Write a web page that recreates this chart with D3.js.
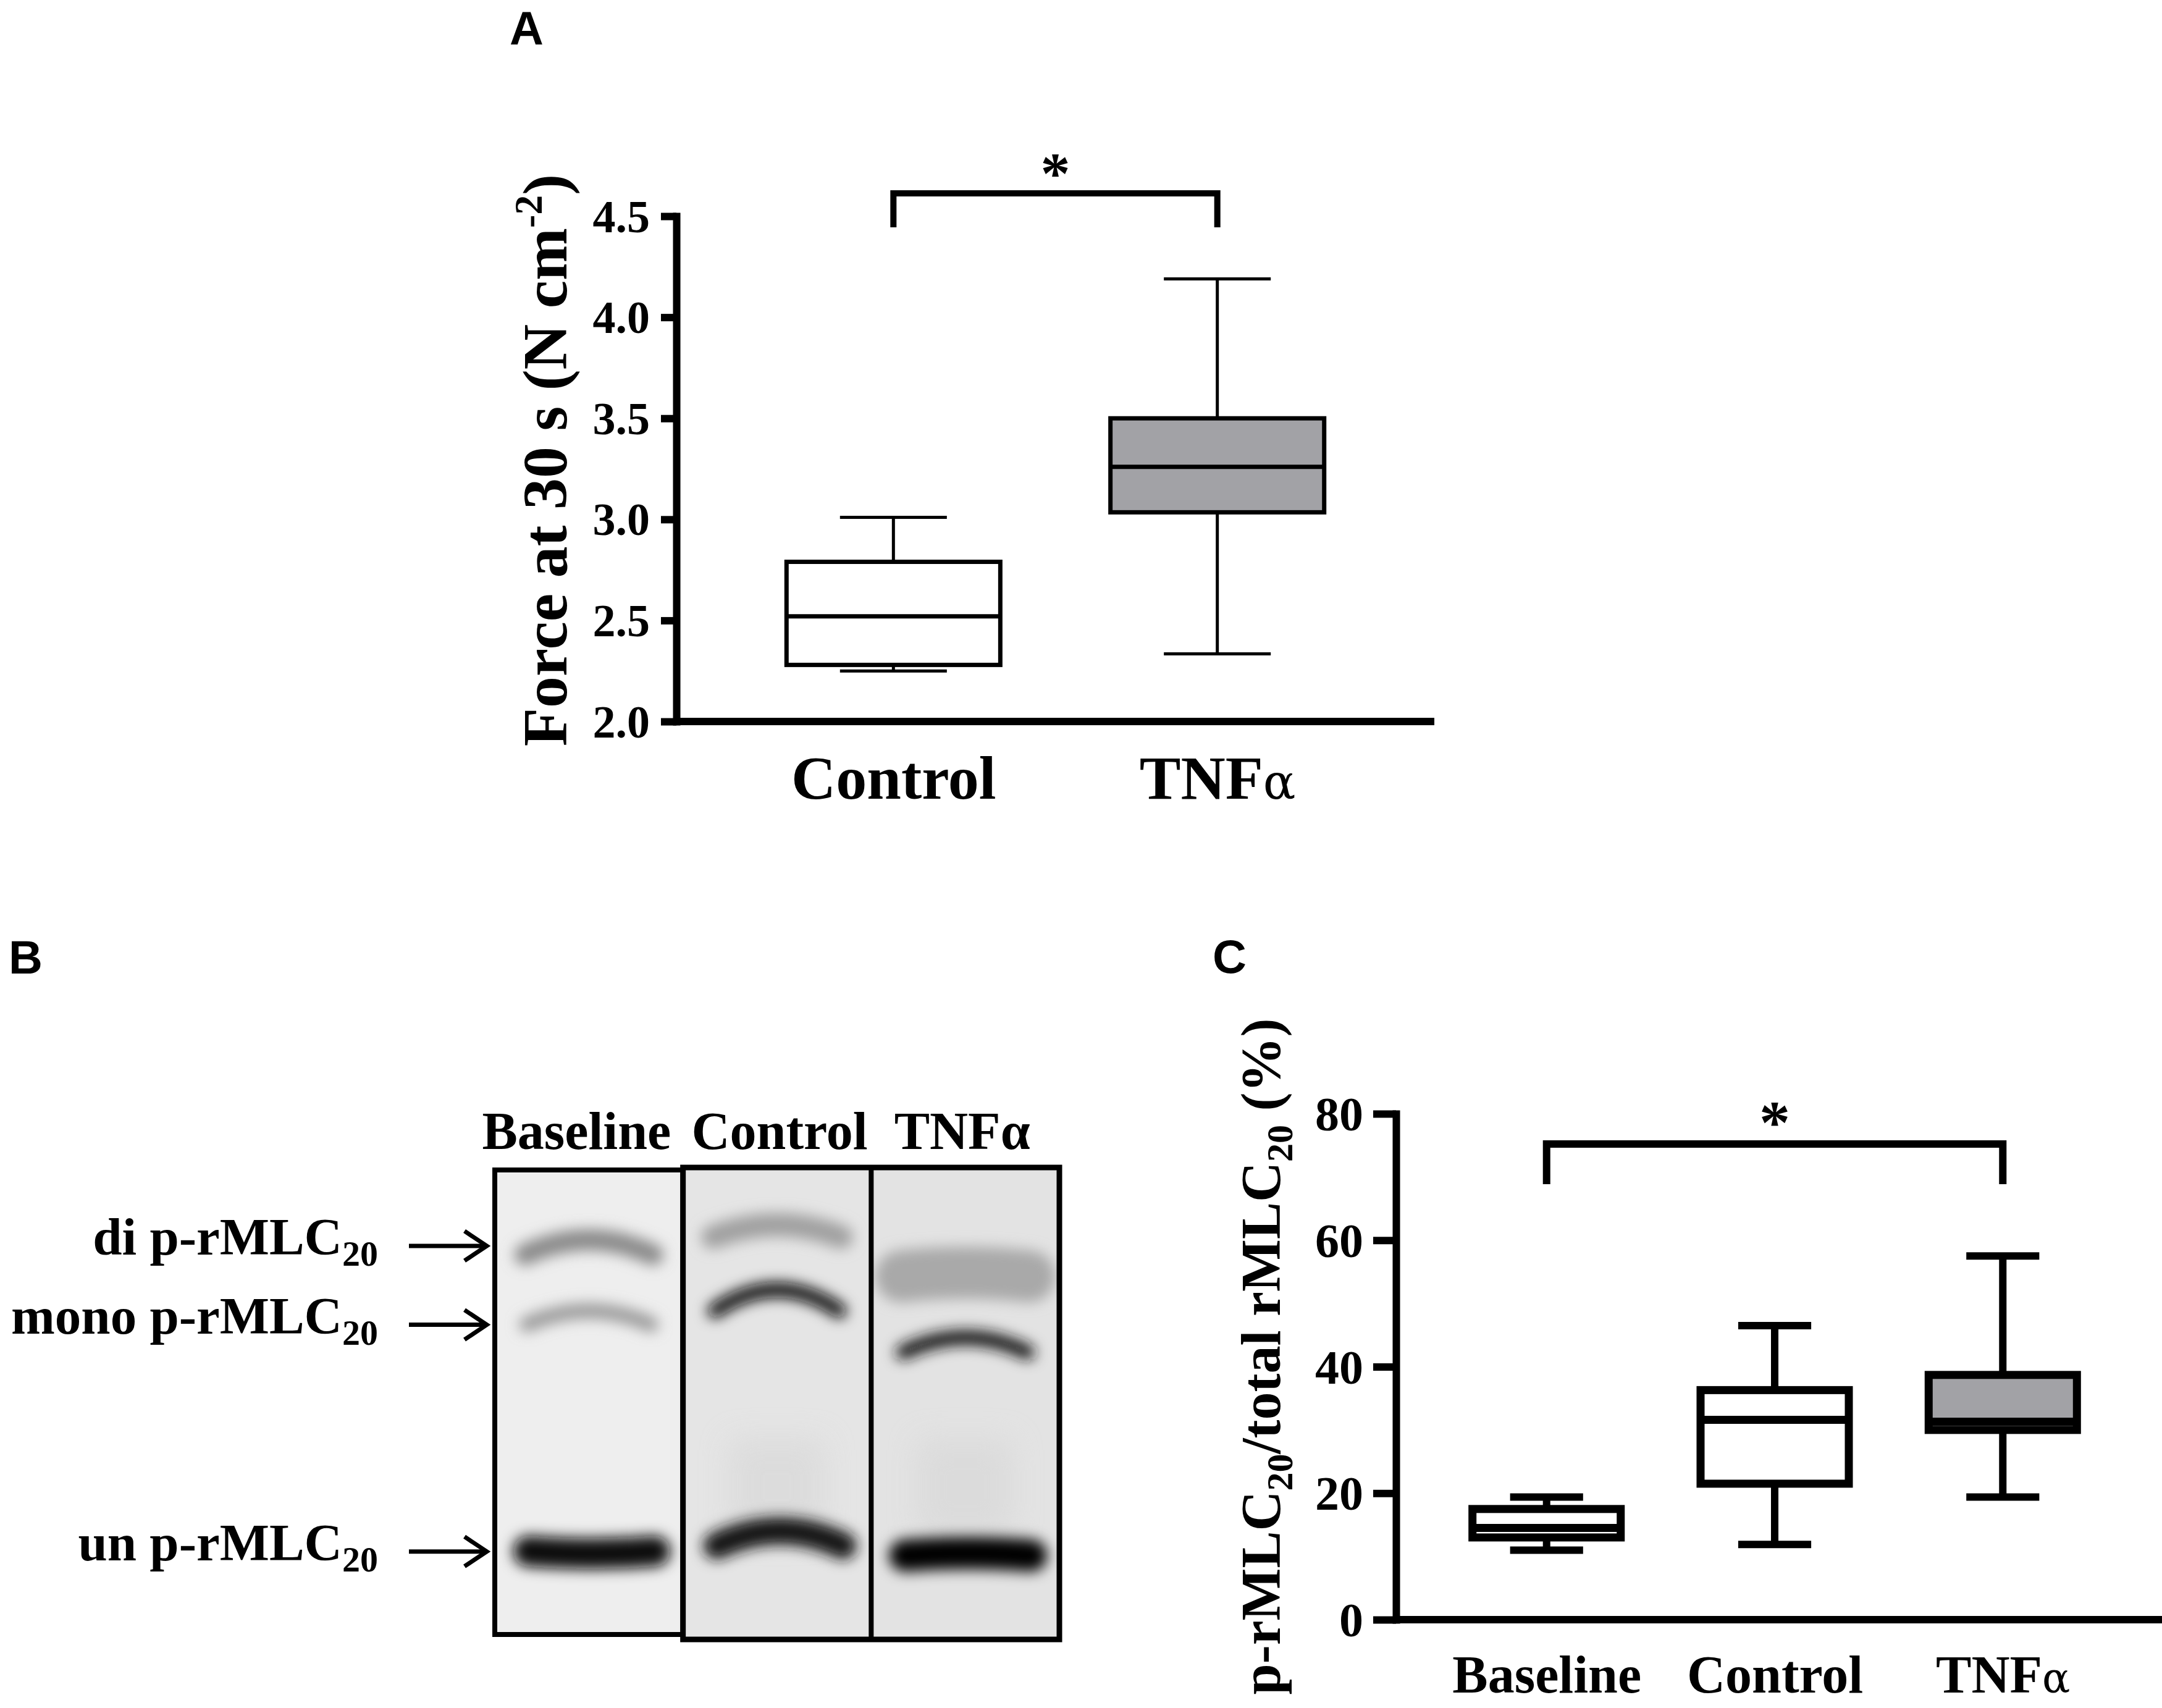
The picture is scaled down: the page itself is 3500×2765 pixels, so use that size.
<!DOCTYPE html>
<html lang="en">
<head>
<meta charset="utf-8" />
<title>Force and rMLC20 phosphorylation</title>
<script src="https://cdn.jsdelivr.net/npm/d3@7"></script>
<style>
  html, body { margin: 0; background: #fff; }
  svg { display: block; }
  .serif { font-family: "Liberation Serif", "Times New Roman", serif; font-weight: bold; fill: #000; }
  .letter { font-family: "Liberation Sans", Arial, sans-serif; font-weight: bold; fill: #000; }
</style>
</head>
<body>
<script>
// ---- data ----
// A: force at 30 s (N cm^-2), box = min / q1 / median / q3 / max
const groupsA = ["Control", "TNFα"];
const forceMin = [2.25, 2.335];
const forceQ1  = [2.28, 3.035];
const forceMed = [2.52, 3.26];
const forceQ3  = [2.79, 3.50];
const forceMax = [3.01, 4.19];
const ticksA   = [2.0, 2.5, 3.0, 3.5, 4.0, 4.5];
const fillsA   = ["#ffffff", "#a2a2a6"];

// C: p-rMLC20 / total rMLC20 (%)
const groupsC = ["Baseline", "Control", "TNFα"];
const phosMin = [11.0, 11.9, 19.4];
const phosQ1  = [13.0, 21.5, 30.0];
const phosMed = [14.5, 31.6, 31.3];
const phosQ3  = [17.5, 36.3, 38.7];
const phosMax = [19.4, 46.5, 57.5];
const ticksC  = [0, 20, 40, 60, 80];
const fillsC  = ["#ffffff", "#ffffff", "#a2a2a6"];

// B: gel lanes, band mobility (Rf, 0 = top of gel) and darkness per lane
const lanes      = ["Baseline", "Control", "TNFα"];
const bandLabels = ["di p-rMLC", "mono p-rMLC", "un p-rMLC"];
const markerRf   = [0.167, 0.335, 0.818];
const diRf    = [0.170, 0.135, 0.228];
const monoRf  = [0.320, 0.283, 0.378];
const unRf    = [0.820, 0.790, 0.824];
const diDark   = [0.40, 0.30, 0.26];
const monoDark = [0.34, 0.95, 0.92];
const unDark   = [0.98, 0.92, 1.00];
const diSpread   = [34, 38, 84];
const monoSpread = [24, 24, 24];
const unSpread   = [50, 44, 52];
const diArch   = [12, 10, 3];
const monoArch = [11, 17, 12];
const unArch   = [-2, 12, 2];

// ---- drawing ----
const W = 3500, H = 2765;
const svg = d3.select("body").append("svg")
  .attr("width", W).attr("height", H)
  .attr("viewBox", [0, 0, W, H]);
const defs = svg.append("defs");

function panelLetter(txt, x, y) {
  svg.append("text").attr("class", "letter")
    .attr("x", x).attr("y", y)
    .style("font-size", "76px")
    .text(txt);
}

// draw a box and whisker set
function drawBoxes(g, x, y, cats, mins, q1s, meds, q3s, maxs, fills, st) {
  const rows = cats.map((c, i) => ({ c, min: mins[i], q1: q1s[i], med: meds[i], q3: q3s[i], max: maxs[i], fill: fills[i] }));
  const bw = x.step() * st.box, cw = x.step() * st.cap;
  const b = g.selectAll("g.box").data(rows).join("g").attr("class", "box")
    .attr("transform", d => `translate(${x(d.c)},0)`);
  b.append("line").attr("y1", d => y(d.max)).attr("y2", d => y(d.q3))
    .attr("stroke", "#000").attr("stroke-width", st.whisker);
  b.append("line").attr("y1", d => y(d.min)).attr("y2", d => y(d.q1))
    .attr("stroke", "#000").attr("stroke-width", st.whisker);
  b.append("line").attr("x1", -cw / 2).attr("x2", cw / 2)
    .attr("y1", d => y(d.max)).attr("y2", d => y(d.max))
    .attr("stroke", "#000").attr("stroke-width", st.whisker);
  b.append("line").attr("x1", -cw / 2).attr("x2", cw / 2)
    .attr("y1", d => y(d.min)).attr("y2", d => y(d.min))
    .attr("stroke", "#000").attr("stroke-width", st.whisker);
  b.append("rect").attr("x", -bw / 2).attr("width", bw)
    .attr("y", d => y(d.q3)).attr("height", d => y(d.q1) - y(d.q3))
    .attr("fill", d => d.fill).attr("stroke", "#000").attr("stroke-width", st.box_sw);
  b.append("line").attr("x1", -bw / 2).attr("x2", bw / 2)
    .attr("y1", d => y(d.med)).attr("y2", d => y(d.med))
    .attr("stroke", "#000").attr("stroke-width", st.box_sw);
}

function yAxis(g, y, ticks, fmt, size, pad, fs) {
  g.call(d3.axisLeft(y).tickValues(ticks).tickFormat(fmt).tickSize(size).tickSizeOuter(0).tickPadding(pad))
    .call(g => g.select(".domain").attr("stroke-width", 12).attr("stroke-linecap", "square"))
    .call(g => g.selectAll(".tick line").attr("stroke-width", 12))
    .call(g => g.selectAll("text").attr("class", "serif").attr("fill", "#000")
      .attr("dy", "0.34em").style("font-size", fs + "px").attr("font-family", null));
}

function xAxis(g, x, yOff, fs) {
  g.call(d3.axisBottom(x).tickSize(0))
    .call(g => g.select(".domain").remove())
    .call(g => g.selectAll("text").attr("class", "serif").attr("fill", "#000")
      .attr("dy", null).attr("y", yOff).style("font-size", fs + "px").attr("font-family", null)
      .each(function (d) {
        if (d.endsWith("α")) {
          const t = d3.select(this).text(d.slice(0, -1));
          t.append("tspan").style("font-weight", "normal").style("font-family", "'DejaVu Serif', serif")
            .style("font-size", (fs * 0.78) + "px").text("α");
        }
      }));
}

function bracket(g, x1, x2, yTop, yBot, sw, starY, starFs) {
  g.append("path")
    .attr("d", `M${x1},${yBot}V${yTop}H${x2}V${yBot}`)
    .attr("fill", "none").attr("stroke", "#000").attr("stroke-width", sw);
  g.append("text").attr("class", "serif")
    .attr("x", (x1 + x2) / 2).attr("y", starY)
    .attr("text-anchor", "middle").style("font-size", starFs + "px").text("*");
}

// ===== Panel A =====
panelLetter("A", 825, 72);
{
  const axX = 1095;
  const yA = d3.scaleLinear().domain([2.0, 4.5]).range([1168, 350]);
  const xA = d3.scalePoint().domain(groupsA).range([axX, 2322]).padding(0.67);
  const g = svg.append("g");

  drawBoxes(g, xA, yA, groupsA, forceMin, forceQ1, forceMed, forceQ3, forceMax, fillsA,
    { box: 0.66, cap: 0.33, whisker: 5, box_sw: 7 });

  g.append("line").attr("x1", axX).attr("x2", 2322).attr("y1", yA(2.0)).attr("y2", yA(2.0))
    .attr("stroke", "#000").attr("stroke-width", 12);
  g.append("g").attr("transform", `translate(${axX},0)`)
    .call(a => yAxis(a, yA, ticksA, d3.format(".1f"), 25, 18, 74));
  g.append("g").attr("transform", `translate(0,${yA(2.0)})`)
    .call(a => xAxis(a, xA, 125, 100));

  bracket(g, xA("Control"), xA("TNFα"), 313, 368, 10, 313, 96);

  const t = svg.append("text").attr("class", "serif")
    .attr("transform", "translate(917,745) rotate(-90)")
    .attr("text-anchor", "middle").style("font-size", "102px");
  t.append("tspan").text("Force at 30 s (N cm");
  t.append("tspan").attr("dy", -40).style("font-size", "64px").text("-2");
  t.append("tspan").attr("dy", 40).text(")");
}

// ===== Panel B (gel) =====
panelLetter("B", 14, 1576);
{
  const gx = d3.scaleBand().domain(lanes).range([801, 1715]);
  const gy = d3.scaleLinear().domain([0, 1]).range([1890, 2650]);
  const ink = d3.interpolateRgb("#e3e3e3", "#050505");
  const labelShift = [-20, 4, -5];
  const laneFill = ["#eeeeee", "#e5e5e5", "#e3e3e3"];
  const g = svg.append("g");

  // filters in user space so flat bands keep a height to blur into
  defs.append("filter").attr("id", "blur").attr("filterUnits", "userSpaceOnUse")
    .attr("x", 0).attr("y", 0).attr("width", W).attr("height", H)
    .append("feGaussianBlur").attr("stdDeviation", 11);
  defs.append("filter").attr("id", "blurWide").attr("filterUnits", "userSpaceOnUse")
    .attr("x", 0).attr("y", 0).attr("width", W).attr("height", H)
    .append("feGaussianBlur").attr("stdDeviation", 24);

  lanes.forEach((ln, i) => {
    defs.append("clipPath").attr("id", `lane-${i}`).append("rect")
      .attr("x", gx(ln)).attr("y", gy(0)).attr("width", gx.bandwidth()).attr("height", gy(1) - gy(0));
  });

  const laneG = g.selectAll("g.lane").data(lanes).join("g").attr("class", "lane")
    .attr("clip-path", (d, i) => `url(#lane-${i})`);
  laneG.append("rect")
    .attr("x", d => gx(d)).attr("y", gy(0))
    .attr("width", gx.bandwidth()).attr("height", gy(1) - gy(0))
    .attr("fill", (d, i) => laneFill[i]);

  // faint smear above the unphosphorylated band
  laneG.filter((d, i) => i > 0).append("rect")
    .attr("x", d => gx(d) + gx.bandwidth() * 0.25).attr("width", gx.bandwidth() * 0.5)
    .attr("y", gy(0.58)).attr("height", gy(0.78) - gy(0.58))
    .attr("fill", "#d6d6d6").attr("opacity", 0.6).attr("filter", "url(#blurWide)");

  const bands = [];
  lanes.forEach((ln, i) => {
    bands.push({ i, ln, rf: diRf[i], dark: diDark[i], w: diSpread[i], arch: diArch[i], l: 0.16, r: 0.84 });
    bands.push({ i, ln, rf: monoRf[i], dark: monoDark[i], w: monoSpread[i], arch: monoArch[i], l: 0.17, r: 0.83 });
    bands.push({ i, ln, rf: unRf[i], dark: unDark[i], w: unSpread[i], arch: unArch[i], l: 0.18, r: 0.85 });
  });
  const bandG = g.append("g");
  bandG.selectAll("g").data(bands).join("g")
    .attr("clip-path", d => `url(#lane-${d.i})`)
    .append("path")
    .attr("d", d => {
      const x0 = gx(d.ln), bw = gx.bandwidth(), y = gy(d.rf);
      const xl = x0 + bw * d.l, xr = x0 + bw * d.r, xm = (xl + xr) / 2;
      return `M${xl},${y + d.arch}Q${xm},${y - 3 * d.arch} ${xr},${y + d.arch}`;
    })
    .attr("fill", "none")
    .attr("stroke", d => ink(d.dark))
    .attr("stroke-width", d => d.w)
    .attr("stroke-linecap", "round")
    .attr("filter", "url(#blur)");

  // lane frames: baseline box, and a joined box for the other two lanes
  g.append("rect").attr("x", gx("Baseline")).attr("y", gy(0) + 4)
    .attr("width", gx.bandwidth()).attr("height", gy(1) - gy(0) - 8)
    .attr("fill", "none").attr("stroke", "#000").attr("stroke-width", 8);
  g.append("rect").attr("x", gx("Control")).attr("y", gy(0))
    .attr("width", gx.bandwidth() * 2).attr("height", gy(1) - gy(0) + 4)
    .attr("fill", "none").attr("stroke", "#000").attr("stroke-width", 9);
  g.append("line").attr("x1", gx("TNFα")).attr("x2", gx("TNFα"))
    .attr("y1", gy(0)).attr("y2", gy(1) + 4)
    .attr("stroke", "#000").attr("stroke-width", 8);

  // lane labels
  g.selectAll("text.laneLab").data(lanes).join("text")
    .attr("class", "serif laneLab")
    .attr("x", (d, i) => gx(d) + gx.bandwidth() / 2 + labelShift[i]).attr("y", 1860)
    .attr("text-anchor", "middle").style("font-size", "86px")
    .text(d => d);

  // band labels and arrows
  const rowG = g.selectAll("g.row").data(bandLabels).join("g").attr("class", "row")
    .attr("transform", (d, i) => `translate(0,${gy(markerRf[i])})`);
  const lab = rowG.append("text").attr("class", "serif")
    .attr("x", 612).attr("y", 14).attr("text-anchor", "end").style("font-size", "85px");
  lab.append("tspan").text(d => d);
  lab.append("tspan").attr("dy", 18).style("font-size", "58px").text("20");
  rowG.append("line").attr("x1", 662).attr("x2", 786)
    .attr("stroke", "#000").attr("stroke-width", 7);
  rowG.append("path").attr("d", "M752,-24L788,0L752,24")
    .attr("fill", "none").attr("stroke", "#000").attr("stroke-width", 7)
    .attr("stroke-linejoin", "miter");
}

// ===== Panel C =====
panelLetter("C", 1963, 1575);
{
  const axX = 2260;
  const yC = d3.scaleLinear().domain([0, 80]).range([2622, 1803]);
  const xC = d3.scalePoint().domain(groupsC).range([axX, 3486]).padding(0.66);
  const g = svg.append("g");

  drawBoxes(g, xC, yC, groupsC, phosMin, phosQ1, phosMed, phosQ3, phosMax, fillsC,
    { box: 0.65, cap: 0.32, whisker: 12, box_sw: 13 });

  g.append("line").attr("x1", axX).attr("x2", W).attr("y1", yC(0)).attr("y2", yC(0))
    .attr("stroke", "#000").attr("stroke-width", 12);
  g.append("g").attr("transform", `translate(${axX},0)`)
    .call(a => yAxis(a, yC, ticksC, d3.format("d"), 37, 16, 78));
  g.append("g").attr("transform", `translate(0,${yC(0)})`)
    .call(a => xAxis(a, xC, 118, 86));

  bracket(g, xC("Baseline"), xC("TNFα"), 1852, 1917, 12, 1850, 100);

  const t = svg.append("text").attr("class", "serif")
    .attr("transform", "translate(2072,2196) rotate(-90)")
    .attr("text-anchor", "middle").style("font-size", "90px");
  t.append("tspan").text("p-rMLC");
  t.append("tspan").attr("dy", 20).style("font-size", "60px").text("20");
  t.append("tspan").attr("dy", -20).text("/total rMLC");
  t.append("tspan").attr("dy", 20).style("font-size", "60px").text("20");
  t.append("tspan").attr("dy", -20).text(" (%)");
}
</script>
</body>
</html>
